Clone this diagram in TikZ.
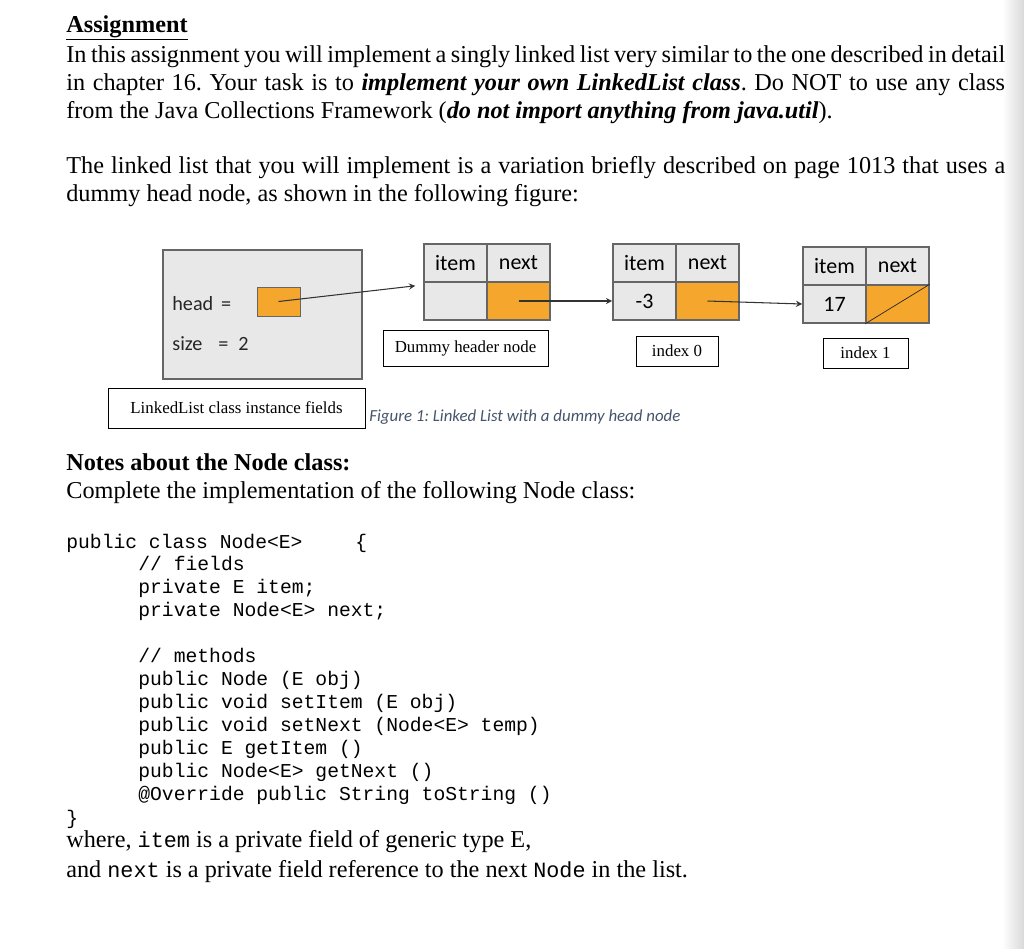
\documentclass[tikz,border=0pt]{standalone}
\usepackage{fontspec}
\setmainfont{Liberation Serif}
\setmonofont{Liberation Mono}
\newfontfamily\calfont{Carlito}
\usepackage{tikz}
\usetikzlibrary{positioning,calc}

\definecolor{nodeorange}{RGB}{245,166,45}
\definecolor{cellgray}{RGB}{232,232,232}
\definecolor{captionblue}{RGB}{68,84,106}
\newcommand{\inlinecode}[1]{{\ttfamily\fontsize{12.4}{14}\selectfont #1}}

\begin{document}
\frenchspacing
\begin{tikzpicture}[
    x=0.02cm, y=-0.02cm,
    body/.style={anchor=base west, inner sep=0pt, font=\fontsize{13.8}{16}\selectfont},
    code/.style={anchor=base west, inner sep=0pt, font=\ttfamily\fontsize{11.2}{13}\selectfont},
    cell/.style={draw=gray!80!black, line width=0.9pt, fill=cellgray, minimum width=63*0.02cm, minimum height=38*0.02cm, inner sep=0pt, font=\calfont\fontsize{12.5}{14}\selectfont},
    tag/.style={draw, thin, fill=white, inner sep=0pt, font=\fontsize{9.6}{11}\selectfont},
    link/.style={->, >=stealth, semithick, gray!40!black}
]
\useasboundingbox (0,0) rectangle (1024,948);
\shade[left color=white, right color=gray!30] (1002,0) rectangle (1024,948);

% header text
\node[body, font=\bfseries\fontsize{13.8}{16}\selectfont] (title) at (66,32) {\underline{Assignment}};
\node[body] (p1) at (66,62) {\makebox[18.78cm][s]{In this assignment you will implement a singly linked list very similar to the one described in detail}};
\node[body] (p2) at (66,90) {\makebox[18.78cm][s]{in chapter 16. Your task is to \textbf{\textit{implement your own LinkedList class}}. Do NOT to use any class}};
\node[body] (p3) at (66,118) {from the Java Collections Framework (\textbf{\textit{do not import anything from java.util}}).};
\node[body] (p4) at (66,173) {\makebox[18.78cm][s]{The linked list that you will implement is a variation briefly described on page 1013 that uses a}};
\node[body] (p5) at (66,201) {dummy head node, as shown in the following figure:};

% instance fields box
\node[draw=gray!80!black, line width=1.5pt, fill=cellgray, minimum width=199*0.02cm, minimum height=129*0.02cm, inner sep=0pt] (fields) at (262.5,314.5) {};
\node[anchor=base west, inner sep=0pt, font=\calfont\fontsize{11.5}{13}\selectfont, gray!30!black] (headlbl) at (172,310) {head \,=};
\node[draw=gray!80!black, fill=nodeorange, minimum width=43*0.02cm, minimum height=29*0.02cm, inner sep=0pt] (headref) at (278.5,301.5) {};
\node[anchor=base west, inner sep=0pt, font=\calfont\fontsize{11.5}{13}\selectfont, gray!30!black] (sizelbl) at (172,350) {size \;\;= \;2};

% list nodes
\foreach \nm/\x/\y/\val in {dummy/455.5/263/{}, first/644.5/263/-3, second/834.5/266/17} {
  \node[cell] (\nm item) at (\x,\y) {item};
  \node[cell, right=-0.9pt of \nm item] (\nm next) {next};
  \node[cell, below=-0.9pt of \nm item] (\nm val) {\val};
  \node[cell, below=-0.9pt of \nm next, fill=nodeorange] (\nm ref) {};
}
\draw[gray!30!black] (secondref.south west) -- (secondref.north east);

% links
\draw[link] (headref.center) -- ($(dummyitem.south west)+(-8,3)$);
\draw[link] (dummyref.center) -- (firstval.west);
\draw[link] (firstref.center) -- (secondval.west);

% tags
\node[tag, minimum width=165*0.02cm, minimum height=36*0.02cm] (dummytag) at (465.5,348) {Dummy header node};
\node[tag, minimum width=82*0.02cm, minimum height=30*0.02cm] (firsttag) at (677,351) {index 0};
\node[tag, minimum width=85*0.02cm, minimum height=30*0.02cm] (secondtag) at (865.5,353) {index 1};
\node[tag, minimum width=257*0.02cm, minimum height=40*0.02cm] (fieldstag) at (236.5,408) {LinkedList class instance fields};
\node[anchor=base west, inner sep=0pt, font=\calfont\itshape\fontsize{9.6}{11}\selectfont, captionblue] (caption) at (369,421) {Figure 1: Linked List with a dummy head node};

% notes
\node[body, font=\bfseries\fontsize{13.8}{16}\selectfont] (notes) at (66,470) {Notes about the Node class:};
\node[body] (complete) at (66,498) {Complete the implementation of the following Node class:};

% code
\node[code] (c1) at (66,548) {public class Node<E>};
\node[code] (c1b) at (355,548) {\{};
\foreach \ln/\y/\txt in {c2/570/{// fields}, c3/593/{private E item;}, c4/616/{private Node<E> next;},
    c5/662/{// methods}, c6/685/{public Node (E obj)}, c7/708/{public void setItem (E obj)},
    c8/731/{public void setNext (Node<E> temp)}, c9/754/{public E getItem ()},
    c10/777/{public Node<E> getNext ()}, c11/800/{@Override public String toString ()}}
  \node[code] (\ln) at (138,\y) {\txt};
\node[code] (c12) at (66,824) {\}};

\node[body] (w1) at (66,847) {where, \inlinecode{item} is a private field of generic type E,};
\node[body] (w2) at (66,877) {and \inlinecode{next} is a private field reference to the next \inlinecode{Node} in the list.};
\end{tikzpicture}
\end{document}
